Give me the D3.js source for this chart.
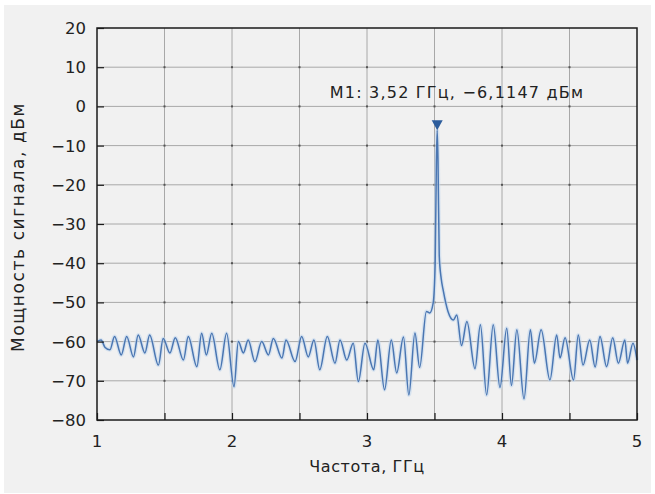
<!DOCTYPE html>
<html><head><meta charset="utf-8">
<script src="https://cdn.jsdelivr.net/npm/d3@7"></script>
<style>body{margin:0;background:#fff}svg{display:block}</style>
</head><body>
<svg id="c" width="655" height="494"></svg>
<script>
const freqGHz = [1.000,1.030,1.060,1.096,1.130,1.180,1.220,1.270,1.305,1.355,1.390,1.455,1.490,1.540,1.580,1.640,1.676,1.740,1.775,1.810,1.850,1.910,1.960,2.015,2.047,2.084,2.120,2.170,2.220,2.270,2.306,2.370,2.400,2.467,2.516,2.565,2.607,2.650,2.706,2.763,2.800,2.850,2.898,2.936,2.985,3.050,3.080,3.130,3.180,3.220,3.270,3.310,3.355,3.390,3.440,3.465,3.490,3.505,3.514,3.520,3.526,3.535,3.550,3.565,3.600,3.640,3.665,3.700,3.740,3.800,3.840,3.886,3.935,3.985,4.035,4.070,4.110,4.163,4.210,4.240,4.290,4.355,4.405,4.430,4.467,4.530,4.565,4.600,4.650,4.690,4.726,4.775,4.820,4.862,4.910,4.930,4.970,5.000];
const powerDBm = [-60.0,-59.6,-61.5,-62.1,-58.7,-63.4,-58.7,-63.9,-58.3,-62.9,-58.3,-66.0,-59.2,-62.9,-59.0,-64.7,-58.7,-66.4,-57.9,-63.4,-57.9,-67.2,-57.9,-71.5,-60.0,-62.9,-59.6,-65.1,-60.0,-63.4,-59.2,-64.2,-59.6,-65.1,-58.7,-63.9,-59.6,-67.2,-58.7,-65.5,-59.6,-64.7,-60.4,-70.2,-60.4,-67.2,-59.6,-72.3,-59.6,-68.0,-58.8,-73.6,-57.8,-66.6,-52.3,-52.7,-50.2,-40,-14,-6.1147,-14,-38,-44,-47.0,-52.3,-54.5,-53.2,-61.0,-54.9,-66.9,-55.7,-73.6,-55.7,-71.7,-56.6,-71.2,-57.0,-74.6,-57.0,-65.5,-57.0,-69.8,-58.3,-64.2,-59.0,-69.8,-58.3,-66.0,-59.6,-66.5,-58.7,-66.4,-59.0,-65.5,-59.6,-65.5,-60.4,-64.7];
const xTicks = [1,2,3,4,5];
const xGrid = [1.5,2,2.5,3,3.5,4,4.5];
const yTicks = [20,10,0,-10,-20,-30,-40,-50,-60,-70,-80];
const marker = {f:3.52, p:-6.1147, label:"M1: 3,52 ГГц, −6,1147 дБм"};
const xTitle = "Частота, ГГц";
const yTitle = "Мощность сигнала, дБм";

const svg = d3.select("#c");
const L=97,R=637,T=28,B=420;
const x = d3.scaleLinear().domain([1,5]).range([L,R]);
const y = d3.scaleLinear().domain([-80,20]).range([B,T]);
const font = "DejaVu Sans, sans-serif";
const fmt = v => String(v).replace("-", "\u2212");

svg.append("rect").attr("x",4).attr("y",5).attr("width",647).attr("height",488).attr("fill","#f1f1f1");

const g = svg.append("g");
g.selectAll(".gx").data(xGrid).join("line")
  .attr("x1",d=>x(d)).attr("x2",d=>x(d)).attr("y1",T).attr("y2",B)
  .attr("stroke","#a8a8a8").attr("stroke-width",1);
g.selectAll(".gy").data(yTicks.filter(d=>d>-80&&d<20)).join("line")
  .attr("x1",L).attr("x2",R).attr("y1",d=>y(d)).attr("y2",d=>y(d))
  .attr("stroke","#a8a8a8").attr("stroke-width",1);
const inter = [];
xGrid.forEach(a=>yTicks.filter(d=>d>-80&&d<20).forEach(b=>inter.push([a,b])));
g.selectAll(".dot").data(inter).join("rect")
  .attr("x",d=>x(d[0])-1).attr("y",d=>y(d[1])-1).attr("width",2).attr("height",2).attr("fill","#555");

const line = d3.line().x((d,i)=>x(freqGHz[i])).y(d=>y(d)).curve(d3.curveMonotoneX);
g.append("path").datum(powerDBm).attr("d",line).attr("fill","none")
  .attr("stroke","#c5d8ef").attr("stroke-width",4).attr("stroke-opacity",0.6);
g.append("path").datum(powerDBm).attr("d",line).attr("fill","none")
  .attr("stroke","#4a76b2").attr("stroke-width",1.5);

const mx=x(marker.f), my=y(marker.p);
g.append("path").attr("d",`M${mx-5.5},${my-10}L${mx+5.5},${my-10}L${mx},${my}Z`).attr("fill","#2d5d9c");
g.append("text").attr("x",457).attr("y",98).attr("text-anchor","middle")
  .attr("font-family",font).attr("font-size",16).attr("letter-spacing",1.2).attr("fill","#222").text(marker.label);

g.append("rect").attr("x",L).attr("y",T).attr("width",R-L).attr("height",B-T)
  .attr("fill","none").attr("stroke","#1a1a1a").attr("stroke-width",1.5);

const ax = d3.axisBottom(x).tickValues(d3.range(1,5.01,0.5)).tickSize(-7).tickFormat("");
g.append("g").attr("transform",`translate(0,${B})`).call(ax)
  .call(s=>{s.select(".domain").remove();s.selectAll("line").attr("stroke","#1a1a1a").attr("stroke-width",1.2);});
const ay = d3.axisLeft(y).tickValues(yTicks).tickSize(-7).tickFormat("");
g.append("g").attr("transform",`translate(${L},0)`).call(ay)
  .call(s=>{s.select(".domain").remove();s.selectAll("line").attr("stroke","#1a1a1a").attr("stroke-width",1.2);});

g.selectAll(".xl").data(xTicks).join("text")
  .attr("x",d=>x(d)).attr("y",B+27).attr("text-anchor","middle")
  .attr("font-family",font).attr("font-size",16.5).attr("fill","#222").text(d=>d);
g.selectAll(".yl").data(yTicks).join("text")
  .attr("x",L-11).attr("y",d=>y(d)+6).attr("text-anchor","end")
  .attr("font-family",font).attr("font-size",16.5).attr("fill","#222").text(fmt);

svg.append("text").attr("x",(L+R)/2).attr("y",472).attr("text-anchor","middle")
  .attr("font-family",font).attr("font-size",16).attr("letter-spacing",0.6).attr("fill","#222").text(xTitle);
svg.append("text").attr("transform",`translate(24,${(T+B)/2+3}) rotate(-90)`).attr("text-anchor","middle")
  .attr("font-family",font).attr("font-size",17).attr("letter-spacing",1.6).attr("fill","#222").text(yTitle);
</script>
</body></html>
